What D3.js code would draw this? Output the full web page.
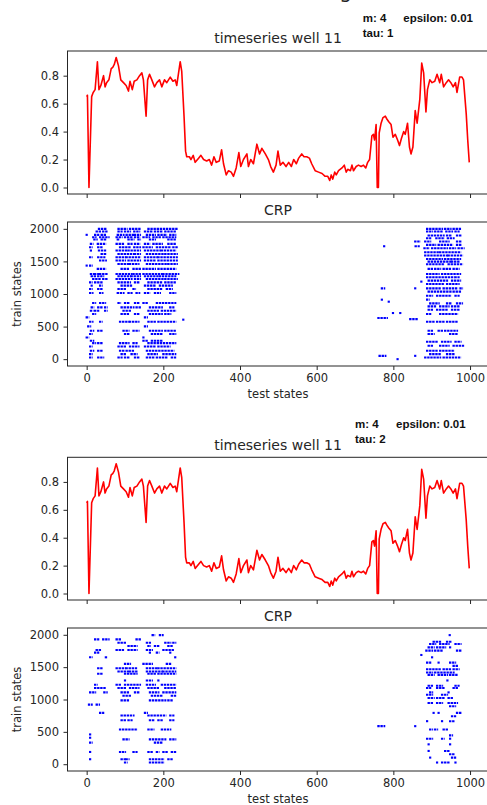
<!DOCTYPE html>
<html>
<head>
<meta charset="utf-8">
<script src="https://cdnjs.cloudflare.com/ajax/libs/d3/7.8.5/d3.min.js"></script>
<style>
body { margin: 0; background: #fff; }
svg { display: block; }
text { font-family: "DejaVu Sans", sans-serif; fill: #262626; }
.note { font-family: "Liberation Sans", Arial, sans-serif; font-weight: bold; fill: #111; font-size: 11.5px; }
</style>
</head>
<body>
<div id="chart"></div>
<script>
//values (test state index, well value)
var tsX = [0,2,6,13,17,22,28,32,37,44,
   48,52,58,64,68,72,77,83,89,96,
   103,109,113,119,124,131,138,144,148,155,
   159,164,170,177,183,190,196,203,209,218,
   225,231,235,244,248,254,258,261,268,272,
   278,283,292,298,305,313,320,326,332,338,
   346,352,357,364,370,377,383,390,397,402,
   409,418,422,428,435,444,451,457,466,474,
   480,487,494,499,505,512,520,527,534,540,
   547,553,561,567,574,581,587,596,605,614,
   622,629,634,638,642,647,651,657,666,672,
   677,681,688,692,696,703,709,716,722,728,
   733,738,744,748,751,755,758,761,763,768,
   773,779,783,788,794,799,805,811,816,821,
   827,831,837,842,846,851,857,862,869,874,
   879,885,889,895,901,908,914,921,925,931,
   938,944,950,956,962,966,973,979,983,990,
   994,998];

var tsY = [.65,.66,0,.65,.68,.70,.90,.70,.73,.80,
   .72,.75,.77,.85,.86,.88,.93,.87,.77,.75,
   .73,.69,.76,.70,.76,.77,.80,.82,.77,.51,
   .77,.81,.77,.72,.75,.77,.72,.77,.75,.79,
   .76,.77,.73,.90,.83,.51,.26,.22,.22,.20,
   .23,.18,.21,.23,.20,.19,.20,.16,.22,.18,
   .19,.27,.17,.09,.12,.11,.08,.14,.25,.15,
   .20,.24,.15,.20,.17,.31,.24,.28,.24,.20,
   .15,.11,.16,.26,.16,.18,.15,.18,.15,.20,
   .17,.21,.24,.22,.22,.21,.17,.12,.11,.10,
   .08,.08,.05,.09,.06,.11,.09,.12,.14,.16,
   .11,.13,.12,.16,.12,.15,.16,.15,.16,.14,
   .18,.20,.37,.38,.34,.45,0,0,.39,.46,
   .50,.51,.49,.47,.45,.36,.38,.34,.30,.35,
   .40,.38,.46,.29,.24,.29,.55,.46,.63,.89,
   .82,.54,.70,.77,.75,.76,.81,.75,.81,.72,
   .75,.77,.75,.72,.75,.68,.79,.79,.77,.53,
   .34,.18];

var xTicks = [0, 200, 400, 600, 800, 1000];
var tsTicks = [0, 0.2, 0.4, 0.6, 0.8];
var crpTicks = [0, 500, 1000, 1500, 2000];
var tauValues = [1, 2];
var mValue = 4;
var epsilonValue = "0.01";

//recurrence runs: [train state, first test state, last test state]
var crp1Runs = [
   [2000,32,50],[2000,83,104],[2000,113,139],[2000,161,235],
   [1959,26,35],[1959,43,52],[1959,83,91],[1959,100,113],[1959,124,137],[1959,152,170],[1959,178,196],[1959,205,231],
   [1908,0,0],[1908,22,30],[1908,39,48],[1908,81,96],[1908,104,122],[1908,126,139],[1908,157,178],[1908,187,207],[1908,218,231],
   [1872,17,23],[1872,35,57],[1872,78,91],[1872,100,117],[1872,126,137],[1872,148,163],[1872,174,191],[1872,200,231],
   [1836,20,26],[1836,39,50],[1836,81,84],[1836,109,122],[1836,135,139],[1836,165,178],[1836,213,231],
   [1769,11,15],[1769,29,48],[1769,78,96],[1769,109,117],[1769,126,137],[1769,152,163],[1769,174,196],[1769,213,231],
   [1718,9,13],[1718,30,39],[1718,87,113],[1718,124,139],[1718,148,170],[1718,183,218],[1718,226,235],
   [1667,11,11],[1667,32,48],[1667,78,104],[1667,109,139],[1667,152,191],[1667,196,231],
   [1615,39,50],[1615,83,122],[1615,126,139],[1615,157,200],[1615,205,235],
   [1564,9,13],[1564,30,46],[1564,78,100],[1564,104,139],[1564,152,183],[1564,187,235],
   [1513,35,50],[1513,78,100],[1513,109,139],[1513,152,178],[1513,187,235],
   [1461,83,109],[1461,113,135],[1461,157,209],[1461,213,235],
   [1436,0,0],[1436,9,13],
   [1385,29,48],[1385,91,109],[1385,122,139],[1385,148,178],[1385,187,231],
   [1308,11,17],[1308,22,30],[1308,35,52],[1308,78,117],[1308,122,139],[1308,148,196],[1308,200,239],
   [1272,13,22],[1272,30,43],[1272,83,113],[1272,117,139],[1272,152,187],[1272,191,231],
   [1231,17,35],[1231,43,52],[1231,78,117],[1231,126,139],[1231,157,200],[1231,205,235],
   [1179,9,13],[1179,22,39],[1179,83,113],[1179,126,135],[1179,161,196],[1179,205,231],
   [1128,13,13],[1128,35,39],[1128,91,117],[1128,152,178],[1128,191,222],
   [1077,9,13],[1077,30,39],[1077,83,100],[1077,122,126],[1077,161,196],[1077,209,222],
   [1015,9,15],[1015,35,41],[1015,81,96],[1015,109,117],[1015,130,137],[1015,152,163],[1015,178,191],[1015,218,231],
   [862,17,22],[862,35,48],[862,83,87],[862,100,109],[862,126,135],[862,148,157],[862,183,231],
   [795,13,17],[795,30,39],[795,48,52],[795,91,122],[795,130,139],[795,165,196],[795,218,226],
   [744,11,15],[744,22,30],[744,48,52],[744,96,113],[744,161,187],[744,196,231],
   [692,17,22],[692,91,109],[692,126,135],[692,165,196],[692,205,218],
   [641,0,4],[641,152,157],
   [606,252,252],
   [574,9,15],[574,35,39],[574,87,109],[574,113,135],[574,161,178],[574,187,231],
   [503,4,9],[503,152,157],
   [436,11,17],[436,30,39],[436,96,109],[436,122,135],[436,165,196],[436,205,231],
   [385,9,13],[385,100,109],[385,170,196],[385,218,231],
   [333,0,4],[333,148,148],
   [282,11,17],[282,148,157],[282,170,196],
   [246,17,22],[246,30,39],[246,87,109],[246,122,130],[246,161,231],
   [195,9,13],[195,83,100],[195,113,135],[195,152,178],[195,187,216],
   [128,11,17],[128,30,39],[128,87,96],[128,104,122],[128,157,226],
   [77,9,13],[77,91,100],[77,117,130],[77,161,183],[77,200,231],
   [26,9,13],[26,30,43],[26,83,91],[26,100,109],[26,126,135],[26,157,174],[26,183,209],[26,222,231],
   //second block, end of the series
   [1733,776,776],[1733,858,866],[1190,873,873],[1087,770,776],[1087,857,857],[913,770,770],[882,788,788],
   [708,799,799],[708,818,818],[631,761,783],[615,844,862],[51,764,779],[51,857,857],[0,811,811],
   [2000,888,927],[2000,935,949],[2000,957,975],
   [1959,888,901],[1959,909,927],[1959,938,953],[1959,962,970],
   [1897,892,931],[1897,940,949],[1897,966,975],
   [1856,888,896],[1856,912,931],[1856,942,957],
   [1805,857,868],[1805,883,896],[1805,922,944],[1805,966,975],
   [1754,888,909],[1754,918,953],[1754,966,975],
   [1702,881,892],[1702,901,940],[1702,948,961],[1702,970,983],
   [1641,883,918],[1641,922,974],
   [1590,883,940],[1590,944,979],
   [1538,888,927],[1538,935,974],
   [1497,892,949],[1497,953,970],
   [1456,888,931],[1456,944,979],
   [1385,892,901],[1385,909,922],[1385,931,949],[1385,957,970],
   [1308,888,918],[1308,927,974],
   [1256,888,957],[1256,962,970],
   [1205,892,940],[1205,953,974],
   [1154,888,931],[1154,940,970],
   [1087,888,922],[1087,931,966],[1087,975,979],
   [1036,892,949],[1036,957,975],
   [974,888,901],[974,914,949],[974,962,970],
   [913,888,892],
   [856,896,918],[856,940,949],[856,966,979],
   [810,892,909],[810,922,944],[810,953,970],
   [759,892,901],[759,914,940],[759,953,970],
   [692,888,896],[692,922,966],
   [574,888,905],[574,914,931],[574,940,966],
   [436,892,901],[436,918,927],[436,935,966],
   [385,892,905],[385,948,966],
   [267,888,914],[267,927,949],[267,962,975],
   [205,892,901],[205,922,944],[205,957,983],
   [128,888,914],[128,922,957],
   [77,896,922],[77,940,957],
   [26,883,922],[26,931,974]
];

var crp2Runs = [
   [1995,172,176],[1995,191,198],
   [1929,22,30],[1929,43,57],[1929,78,87],[1929,130,139],
   [1878,83,100],[1878,157,165],[1878,205,218],[1878,226,231],
   [1826,109,130],[1826,161,165],[1826,178,187],[1826,213,222],
   [1765,26,35],[1765,78,96],[1765,109,130],[1765,157,170],[1765,200,226],
   [1724,22,30],[1724,165,165],[1724,183,187],[1724,218,218],
   [1652,9,13],[1652,50,52],[1652,231,231],
   [1550,100,113],[1550,148,170],[1550,209,218],
   [1484,30,39],[1484,78,100],[1484,104,130],[1484,157,183],[1484,187,231],
   [1432,83,109],[1432,113,130],[1432,157,196],[1432,200,231],
   [1397,30,39],[1397,100,130],[1397,161,178],[1397,187,231],
   [1294,100,100],[1294,157,170],[1294,187,187],
   [1228,22,26],[1228,78,87],[1228,100,139],[1228,157,178],[1228,196,231],
   [1177,22,48],[1177,83,100],[1177,113,135],[1177,161,187],[1177,205,231],
   [1110,9,22],[1110,46,52],[1110,91,109],[1110,126,135],[1110,165,187],[1110,200,231],
   [1059,96,113],[1059,170,196],[1059,222,231],
   [987,91,109],[987,165,205],[987,213,222],
   [921,6,13],[921,26,32],
   [793,35,43],[793,152,157],
   [752,91,122],[752,161,205],[752,218,226],
   [680,91,100],[680,109,117],[680,165,174],[680,187,196],[680,218,226],
   [537,87,130],[537,161,174],[537,196,218],
   [460,9,9],[409,9,9],
   [384,96,109],[384,165,205],[384,218,231],
   [333,9,13],[333,178,196],
   [189,9,9],[189,87,100],[189,122,130],[189,161,170],[189,183,187],[189,200,209],[189,222,231],
   [77,9,9],[77,91,100],[77,104,109],[77,165,200],[77,213,222],
   [26,100,104],[26,165,200],
   //second block, end of the series
   [588,761,776],[588,857,857],[1688,873,873],
   [1995,947,947],
   [1893,905,922],[1893,940,949],
   [1857,896,909],[1857,922,944],[1857,962,975],
   [1806,892,905],[1806,914,935],[1806,948,948],
   [1755,886,901],[1755,909,927],[1755,966,975],
   [1652,901,901],
   [1570,888,896],[1570,918,918],[1570,948,961],
   [1519,957,966],
   [1468,888,922],[1468,931,949],[1468,957,970],
   [1417,888,901],[1417,909,957],
   [1381,892,905],[1381,918,940],[1381,948,966],
   [1294,941,941],
   [1212,892,901],[1212,914,927],[1212,962,970],
   [1177,888,896],[1177,914,931],[1177,957,966],
   [1110,896,901],[1110,944,944],
   [1074,888,901],[1074,927,940],
   [1023,892,905],[1023,914,931],[1023,944,953],
   [946,892,901],[946,914,927],[946,944,966],
   [895,948,961],
   [793,905,905],[793,918,918],[793,966,975],
   [742,953,961],
   [665,888,888],[665,927,927],[665,948,957],
   [537,896,901],[537,909,914],[537,931,940],
   [445,948,953],
   [394,888,901],[394,927,931],[394,948,948],
   [307,892,892],[307,948,948],
   [205,892,892],[205,935,944],
   [153,948,957],
   [102,896,896],[102,953,961],
   [26,914,914],[26,927,944],[26,962,962]
];

var left = 67.5, right = 489.2;

function main() {
   var svg = d3.select("#chart").append("svg")
      .attr("width", 487)
      .attr("height", 805);

   //figure title, cut off by the screenshot (only the "g" tail shows)
   svg.append("text")
      .attr("x", 352)
      .attr("y", -2)
      .attr("text-anchor", "end")
      .style("font-size", "20px")
      .style("fill", "#222")
      .text("CRP well 11 training");

   drawTimeseries(svg, 51, 194, tauValues[0], 362.7, 403.3);
   drawCRP(svg, 222, 366, crp1Runs);
   drawTimeseries(svg, 457.3, 600, tauValues[1], 355, 396);
   drawCRP(svg, 628, 771, crp2Runs);
}

function styleAxis(g) {
   g.attr("color", "#262626")
      .attr("font-family", "DejaVu Sans")
      .attr("font-size", 11.5);
   g.select(".domain").remove();
}

function drawFrame(svg, top, bottom) {
   svg.append("rect")
      .attr("x", left)
      .attr("y", top)
      .attr("width", right - left)
      .attr("height", bottom - top)
      .attr("fill", "none")
      .attr("stroke", "#262626")
      .attr("stroke-width", 1);
}

function drawTimeseries(svg, top, bottom, tau, noteX, epsX) {
   var x = d3.scaleLinear().domain([-50, 1050]).range([left, right]);
   var y = d3.scaleLinear().domain([-0.0465, 0.9765]).range([bottom, top]);

   //x ticks without labels (shared with the CRP below)
   svg.append("g")
      .attr("transform", "translate(0," + bottom + ")")
      .call(d3.axisBottom(x).tickValues(xTicks).tickSize(4).tickSizeOuter(0).tickFormat(""))
      .call(styleAxis);

   svg.append("g")
      .attr("transform", "translate(" + left + ",0)")
      .call(d3.axisLeft(y).tickValues(tsTicks).tickSize(4).tickPadding(4.5)
         .tickSizeOuter(0).tickFormat(d3.format(".1f")))
      .call(styleAxis);

   var line = d3.line()
      .x(function(d, i) { return x(tsX[i]); })
      .y(function(d) { return y(d); });

   svg.append("path")
      .datum(tsY)
      .attr("d", line)
      .attr("fill", "none")
      .attr("stroke", "#ff0000")
      .attr("stroke-width", 1.6)
      .attr("stroke-linejoin", "round");

   drawFrame(svg, top, bottom);

   svg.append("text")
      .attr("x", 278)
      .attr("y", top - 7.7)
      .attr("text-anchor", "middle")
      .style("font-size", "14px")
      .text("timeseries well 11");

   //parameters note
   svg.append("text").attr("class", "note")
      .attr("x", noteX).attr("y", top - 29.5)
      .text("m: " + mValue);
   svg.append("text").attr("class", "note")
      .attr("x", epsX).attr("y", top - 29.5)
      .text("epsilon: " + epsilonValue);
   svg.append("text").attr("class", "note")
      .attr("x", noteX).attr("y", top - 14)
      .text("tau: " + tau);
}

function drawCRP(svg, top, bottom, runs) {
   var x = d3.scaleLinear().domain([-50, 1050]).range([left, right]);
   var y = d3.scaleLinear().domain([-105, 2105]).range([bottom, top]);

   svg.append("g")
      .attr("transform", "translate(0," + bottom + ")")
      .call(d3.axisBottom(x).tickValues(xTicks).tickSize(4).tickPadding(3.5)
         .tickSizeOuter(0).tickFormat(d3.format("d")))
      .call(styleAxis);

   svg.append("g")
      .attr("transform", "translate(" + left + ",0)")
      .call(d3.axisLeft(y).tickValues(crpTicks).tickSize(4).tickPadding(4.5)
         .tickSizeOuter(0).tickFormat(d3.format("d")))
      .call(styleAxis);

   //each run is a row of small square markers
   svg.append("g").selectAll(".dot")
      .data(runs)
      .enter().append("line")
         .attr("class", "dot")
         .attr("x1", function(d) { return x(d[1]) - 1.1; })
         .attr("x2", function(d) { return x(d[2]) + 1.1; })
         .attr("y1", function(d) { return y(d[0]); })
         .attr("y2", function(d) { return y(d[0]); })
         .attr("stroke", "#0000ff")
         .attr("stroke-width", 2.1)
         .attr("stroke-dasharray", "2.4,0.7");

   drawFrame(svg, top, bottom);

   svg.append("text")
      .attr("x", 278)
      .attr("y", top - 7)
      .attr("text-anchor", "middle")
      .style("font-size", "14px")
      .text("CRP");

   svg.append("text")
      .attr("x", 278)
      .attr("y", bottom + 32)
      .attr("text-anchor", "middle")
      .style("font-size", "11.5px")
      .text("test states");

   svg.append("text")
      .attr("transform", "translate(20.5," + ((top + bottom) / 2) + ") rotate(-90)")
      .attr("text-anchor", "middle")
      .style("font-size", "11.5px")
      .text("train states");
}

main();
</script>
</body>
</html>
